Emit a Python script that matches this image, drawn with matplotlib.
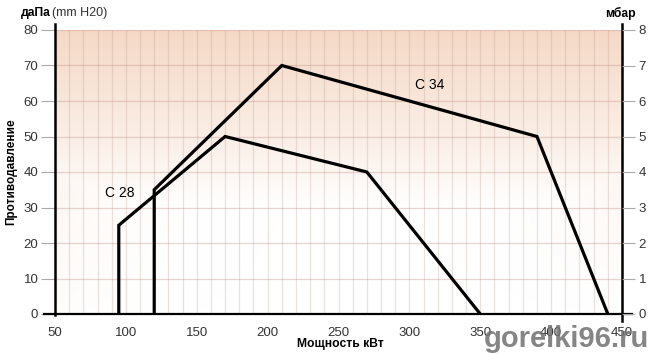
import numpy as np
import matplotlib
matplotlib.use("Agg")
import matplotlib.pyplot as plt
from matplotlib.colors import LinearSegmentedColormap

plt.rcParams['font.family'] = ['Liberation Sans', 'DejaVu Sans']

# Data
c28_x = [95, 95, 170, 270, 350]
c28_y = [0, 25, 50, 40, 0]
c34_x = [120, 120, 210, 390, 440]
c34_y = [0, 35, 70, 50, 0]
x_ticks = [50, 100, 150, 200, 250, 300, 350, 400, 450]
y_ticks = [0, 10, 20, 30, 40, 50, 60, 70, 80]
mbar_ticks = [0, 1, 2, 3, 4, 5, 6, 7, 8]

fig = plt.figure(figsize=(6.56, 3.54), dpi=100)
ax = fig.add_axes([55/656, 1-314/354, (622-55)/656, (314-30)/354])
ax.set_xlim(50, 450)
ax.set_ylim(0, 80)

# gradient background
xs = np.linspace(50, 450, 400)
ys = np.linspace(0, 80, 200)
X, Y = np.meshgrid(xs, ys)
yf = Y / 80.0
vert = np.clip((yf - 0.38) / 0.62, 0, 1) ** 0.9
dl = (X - 50) / 400.0
dr = (450 - X) / 400.0
edge = 0.45 * np.exp(-dl / 0.10) * np.clip(yf + 0.1, 0, 1) + 0.5 * np.exp(-dr / 0.09) * np.clip(yf + 0.0, 0, 1)
I = np.clip(np.maximum(vert, edge), 0, 1)
cmap = LinearSegmentedColormap.from_list("bg", ["#ffffff", "#f5d9c6"])
ax.imshow(I, extent=(50, 450, 0, 80), origin='lower', aspect='auto', cmap=cmap, vmin=0, vmax=1, zorder=0)

# grid
for gx in range(60, 450, 10):
    ax.axvline(gx, color='#b89890', alpha=0.28, lw=0.9, zorder=1)
for gy in range(10, 81, 10):
    ax.axhline(gy, color='#c89088', alpha=0.38, lw=0.9, zorder=1)

# curves
ax.plot(c28_x, c28_y, color='black', lw=2.3, zorder=3, solid_joinstyle='miter')
ax.plot(c34_x, c34_y, color='black', lw=2.3, zorder=3, solid_joinstyle='miter')
ax.text(96, 34, 'C 28', fontsize=10, ha='center', va='center', zorder=4)
ax.text(314, 64.5, 'C 34', fontsize=10, ha='center', va='center', zorder=4)

# axis lines
for s in ax.spines.values():
    s.set_visible(False)
ax.plot([42, 457], [0, 0], color='black', lw=1.6, clip_on=False, zorder=5)
ax.plot([50, 50], [-0.3, 81.8], color='black', lw=1.8, clip_on=False, zorder=5)
ax.plot([450, 450], [-2, 81.8], color='black', lw=1.8, clip_on=False, zorder=5)

ax.set_xticks(x_ticks)
ax.set_xticklabels([str(v) for v in x_ticks])
ax.set_yticks(y_ticks)
ax.set_yticklabels([str(v) for v in y_ticks])
ax.tick_params(axis='x', length=0, pad=9, labelsize=9.5, labelcolor='#333333')
ax.tick_params(axis='y', length=10, width=0.8, color='#aaaaaa', pad=2, labelsize=9.5, labelcolor='#333333')

ax2 = ax.twinx()
ax2.set_ylim(0, 8)
ax2.set_yticks(mbar_ticks)
ax2.set_yticklabels([str(v) for v in mbar_ticks])
for s in ax2.spines.values():
    s.set_visible(False)
ax2.tick_params(axis='y', length=9, width=0.8, color='#aaaaaa', pad=3, labelsize=9.5, labelcolor='#333333')

# labels
fig.text(21/656, 1-13/354, 'даПа', fontsize=8.7, fontweight='bold', ha='left', va='center')
fig.text(52/656, 1-13/354, '(mm H20)', fontsize=9, ha='left', va='center', color='#333333')
fig.text(636/656, 1-13/354, 'мбар', fontsize=8.7, fontweight='bold', ha='right', va='center')
fig.text(11/656, 1-172/354, 'Противодавление', fontsize=8.5, fontweight='bold', rotation=90, ha='center', va='center')
fig.text(340/656, 1-344/354, 'Мощность кВт', fontsize=8.7, fontweight='bold', ha='center', va='center')
fig.text(566/656, 1-339/354, 'gorelki96.ru', fontsize=21, fontweight='bold', ha='center', va='center', color='#707070', alpha=0.85)

fig.savefig('out.png', dpi=100)
